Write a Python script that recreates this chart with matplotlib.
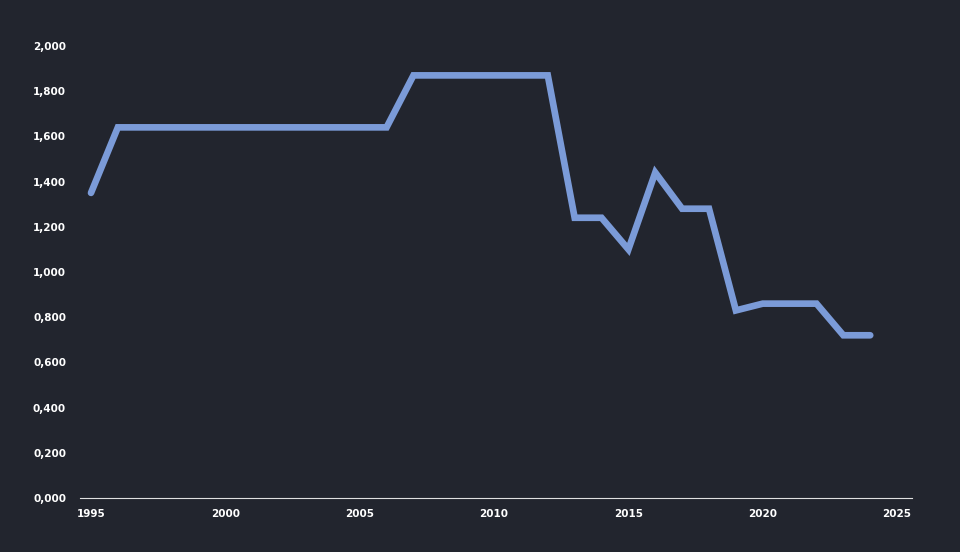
import matplotlib
matplotlib.use("Agg")
import matplotlib.pyplot as plt

years = list(range(1995, 2025))
values = [1.35, 1.64, 1.64, 1.64, 1.64, 1.64, 1.64, 1.64, 1.64, 1.64, 1.64, 1.64,
          1.87, 1.87, 1.87, 1.87, 1.87, 1.87, 1.24, 1.24, 1.10, 1.44, 1.28, 1.28,
          0.83, 0.86, 0.86, 0.86, 0.72, 0.72]
yticks = [0, 0.2, 0.4, 0.6, 0.8, 1.0, 1.2, 1.4, 1.6, 1.8, 2.0]
ytick_labels = ["0,000", "0,200", "0,400", "0,600", "0,800", "1,000", "1,200", "1,400", "1,600", "1,800", "2,000"]
xticks = [1995, 2000, 2005, 2010, 2015, 2020, 2025]

bg = "#22252e"
fig = plt.figure(figsize=(9.6, 5.52), dpi=100, facecolor=bg)
ax = fig.add_axes([80/960, 1-498/552, (912-80)/960, (498-46)/552], facecolor=bg)
ax.plot(years, values, color="#7b9bd8", lw=4.8, solid_joinstyle="miter", solid_capstyle="round")
ax.set_ylim(0, 2.0)
ax.set_xlim(1995 - 11/26.87, 1995 + (912-91)/26.87)
ax.set_yticks(yticks)
ax.set_yticklabels(ytick_labels)
ax.set_xticks(xticks)
for s in ["top", "right", "left"]:
    ax.spines[s].set_visible(False)
ax.spines["bottom"].set_color("#e0e0e0")
ax.tick_params(axis="both", length=0, colors="white", labelsize=7.5)
ax.tick_params(axis="x", pad=8)
ax.tick_params(axis="y", pad=10)
for lab in ax.get_xticklabels() + ax.get_yticklabels():
    lab.set_fontweight("bold")
fig.savefig("out.png", dpi=100, facecolor=bg)
